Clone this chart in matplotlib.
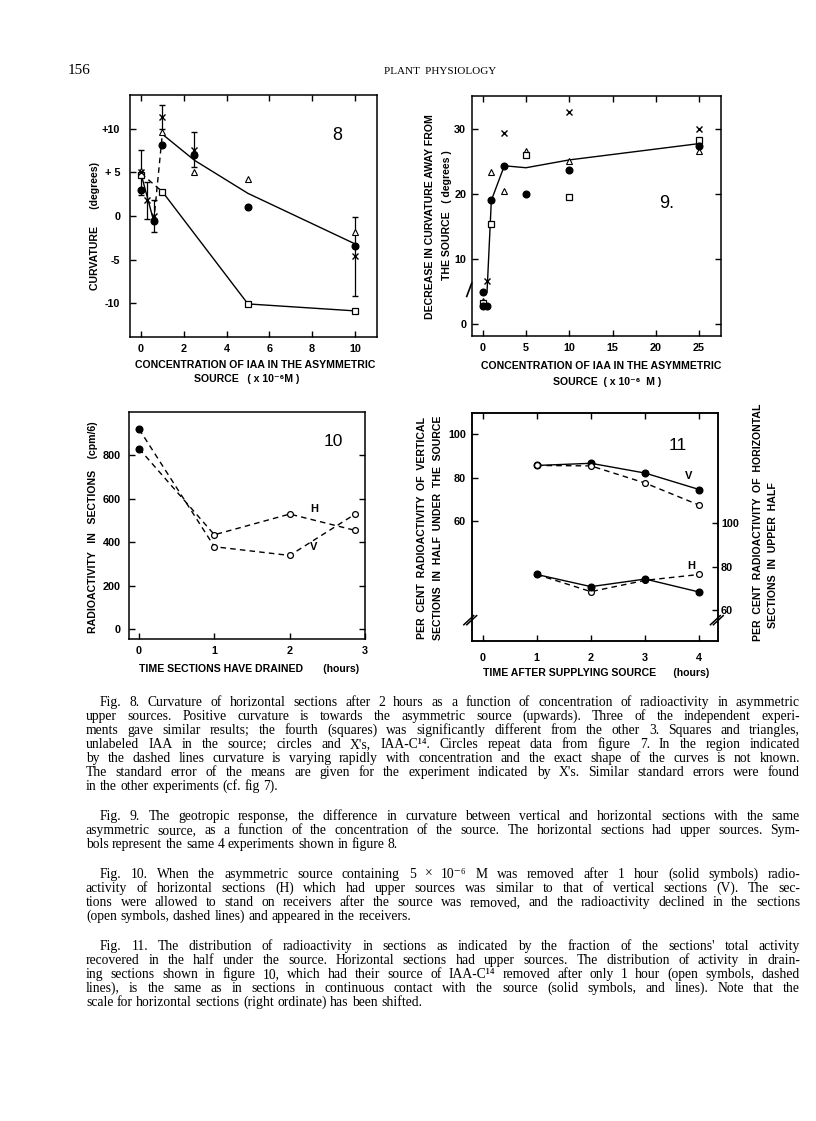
import matplotlib
matplotlib.use("Agg")
import matplotlib.pyplot as plt

W, H = 816, 1121
SANS = ['Liberation Sans', 'DejaVu Sans']
SERIF = ['Liberation Serif', 'DejaVu Serif']
plt.rcParams['font.family'] = SANS

# ---------------- data ----------------
# Fig 8
f8_sq_x = [0, 1, 5, 10]
f8_sq_y = [4.7, 2.8, -10.1, -10.9]
f8_tri_x = [0, 1, 2.5, 5, 10]
f8_tri_y = [5.2, 9.7, 5.0, 4.2, -1.8]
f8_cir_x = [0, 0.6, 1, 2.5, 5, 10]
f8_cir_y = [3.0, -0.6, 8.2, 7.0, 1.0, -3.4]
f8_xm_x = [0, 0.3, 0.6, 1, 2.5, 10]
f8_xm_y = [5.0, 1.8, 0.0, 11.4, 7.6, -4.65]
f8_xm_err = [2.6, 2.1, 1.8, 1.4, 2.0, 4.5]
f8_curve_x = [1, 2.5, 5, 10]
f8_curve_y = [9.4, 6.4, 2.6, -3.2]
f8_lowcurve_x = [1, 5, 10]
f8_lowcurve_y = [2.8, -10.1, -10.9]
f8_solidlow_x = [0, 0.6]
f8_solidlow_y = [4.9, -0.6]
f8_dashA_x = [0.6, 1]
f8_dashA_y = [-0.6, 9.4]
f8_dashB_x = [0, 1]
f8_dashB_y = [4.9, 2.8]

# Fig 9
f9_curve_x = [0, 0.5, 1, 2.5, 5, 10, 25]
f9_curve_y = [4.8, 4.9, 19.0, 24.3, 24.0, 25.2, 27.7]
f9_cir_x = [0, 0, 0.5, 1, 2.5, 5, 10, 25]
f9_cir_y = [4.9, 2.85, 2.8, 19.0, 24.3, 19.9, 23.6, 27.4]
f9_xm_x = [0.5, 2.5, 10, 25]
f9_xm_y = [6.6, 29.4, 32.6, 30.0]
f9_tri_x = [0, 1, 2.5, 5, 10, 25]
f9_tri_y = [3.5, 23.3, 20.5, 26.5, 25.0, 26.5]
f9_sq_x = [0, 1, 5, 10, 25]
f9_sq_y = [3.2, 15.3, 26.0, 19.5, 28.3]

# Fig 10
f10_t = [0, 1, 2, 2.87]
f10_H = [830, 435, 530, 455]
f10_V = [920, 380, 340, 530]

# Fig 11
f11_t = [1, 2, 3, 4]
f11_V_solid = [85.7, 86.7, 82.2, 74.6]
f11_V_open = [85.7, 85.5, 77.6, 67.4]
f11_H_solid = [76.5, 70.9, 74.4, 68.4]
f11_H_open = [76.5, 68.6, 73.8, 76.5]

fig = plt.figure(figsize=(W / 100, H / 100), dpi=100)
fig.patch.set_facecolor('white')


def rect(l, t, r, b):
    return [l / W, 1 - b / H, (r - l) / W, (b - t) / H]


def ptext(x, y, s, **kw):
    return fig.text(x / W, 1 - y / H, s, **kw)


LW = 1.0
TICKFS = 7.8
LABFS = 7.6


def style(ax, top=True, right=True, lpad=4, bpad=4):
    for sp in ax.spines.values():
        sp.set_linewidth(1.1)
    ax.tick_params(direction='in', length=4, width=1.0, labelsize=TICKFS,
                   top=top, right=right, colors='black')
    ax.tick_params(axis='y', pad=lpad)
    ax.tick_params(axis='x', pad=bpad)
    for lab in ax.get_xticklabels() + ax.get_yticklabels():
        lab.set_fontweight('bold')


mk = dict(color='black', linestyle='none')

# ---------------- Fig 8 ----------------
ax8 = fig.add_axes(rect(130, 95, 377, 337))
ax8.set_xlim(-0.51, 11.03)
ax8.set_ylim(-13.9, 13.9)
ax8.plot(f8_curve_x, f8_curve_y, color='black', lw=LW)
ax8.plot(f8_lowcurve_x, f8_lowcurve_y, color='black', lw=LW)
ax8.plot(f8_solidlow_x, f8_solidlow_y, color='black', lw=LW)
ax8.plot(f8_dashA_x, f8_dashA_y, color='black', lw=LW, ls=(0, (4, 3)))
ax8.plot(f8_dashB_x, f8_dashB_y, color='black', lw=LW, ls=(0, (4, 3)))
ax8.errorbar(f8_xm_x, f8_xm_y, yerr=f8_xm_err, fmt='x', color='black',
             ms=4.0, mew=1.0, elinewidth=0.9, capsize=2.2, capthick=0.9)
ax8.plot(f8_cir_x, f8_cir_y, marker='o', ms=4.8, mfc='black', **mk)
ax8.plot(f8_tri_x, f8_tri_y, marker='^', ms=4.2, mfc='white', mew=0.8, **mk)
ax8.plot(f8_sq_x, f8_sq_y, marker='s', ms=4.4, mfc='white', mew=0.9, **mk)
ax8.set_xticks([0, 2, 4, 6, 8, 10])
ax8.set_yticks([-10, -5, 0, 5, 10])
ax8.set_yticklabels(['-10', '-5', '0', '+ 5', '+10'])
style(ax8, top=True, right=False, lpad=7, bpad=5)
ax8.text(9.16, 9.3, '8', fontsize=13, ha='center', va='center')
ptext(95, 226, 'CURVATURE      (degrees)', rotation=90, ha='center', va='center',
      fontsize=LABFS, fontweight='bold')
ptext(255, 365, 'CONCENTRATION OF IAA IN THE ASYMMETRIC', ha='center', va='center',
      fontsize=LABFS, fontweight='bold')
ptext(247, 379, 'SOURCE   ( x 10\u207b\u2076M )', ha='center', va='center',
      fontsize=LABFS, fontweight='bold', family=SANS)

# ---------------- Fig 9 ----------------
ax9 = fig.add_axes(rect(471.7, 96, 720.7, 336))
ax9.set_xlim(-1.27, 27.5)
ax9.set_ylim(-1.8, 35)
ax9.plot(f9_curve_x, f9_curve_y, color='black', lw=LW)
ax9.plot(f9_xm_x, f9_xm_y, marker='x', ms=4.0, mew=1.0, **mk)
ax9.plot(f9_tri_x, f9_tri_y, marker='^', ms=4.2, mfc='white', mew=0.8, **mk)
ax9.plot(f9_sq_x, f9_sq_y, marker='s', ms=4.3, mfc='white', mew=0.9, **mk)
ax9.plot(f9_cir_x, f9_cir_y, marker='o', ms=4.8, mfc='black', **mk)
ax9.set_xticks([0, 5, 10, 15, 20, 25])
ax9.set_yticks([0, 10, 20, 30])
style(ax9, top=True, right=True, lpad=4, bpad=5)
ax9.text(21.3, 18.5, '9.', fontsize=13, ha='center', va='center')
ax9.plot([-0.02, 0.0], [0.165, 0.22], transform=ax9.transAxes, color='black',
         lw=1.2, clip_on=False)
ptext(430, 217, 'DECREASE IN CURVATURE AWAY FROM', rotation=90, ha='center',
      va='center', fontsize=LABFS, fontweight='bold')
ptext(446.5, 215, 'THE SOURCE   ( degrees )', rotation=90, ha='center',
      va='center', fontsize=LABFS, fontweight='bold')
ptext(601, 366, 'CONCENTRATION OF IAA IN THE ASYMMETRIC', ha='center', va='center',
      fontsize=LABFS, fontweight='bold')
ptext(607, 382, 'SOURCE  ( x 10\u207b\u2076  M )', ha='center', va='center',
      fontsize=LABFS, fontweight='bold', family=SANS)

# ---------------- Fig 10 ----------------
ax10 = fig.add_axes(rect(129.3, 411.7, 365, 639.3))
ax10.set_xlim(-0.13, 3.0)
ax10.set_ylim(-45, 1000)
ax10.plot(f10_t, f10_H, color='black', lw=LW, ls=(0, (4, 3)))
ax10.plot(f10_t, f10_V, color='black', lw=LW, ls=(0, (4, 3)))
for ys in (f10_H, f10_V):
    ax10.plot(f10_t[:1], ys[:1], marker='o', ms=4.8, mfc='black', **mk)
    ax10.plot(f10_t[1:], ys[1:], marker='o', ms=4.2, mfc='white', mew=0.9, **mk)
ax10.set_xticks([0, 1, 2, 3])
ax10.set_yticks([0, 200, 400, 600, 800])
style(ax10, top=False, right=True, lpad=6, bpad=5)
ax10.text(2.58, 861, '10', fontsize=12.5, ha='center', va='center')
ax10.text(2.32, 555, 'H', fontsize=8, fontweight='bold', ha='center', va='center')
ax10.text(2.32, 379, 'V', fontsize=8, fontweight='bold', ha='center', va='center')
ptext(93, 527, 'RADIOACTIVITY   IN   SECTIONS    (cpm/6)', rotation=90,
      ha='center', va='center', fontsize=LABFS, fontweight='bold')
ptext(249, 669, 'TIME SECTIONS HAVE DRAINED       (hours)', ha='center',
      va='center', fontsize=LABFS, fontweight='bold')

# ---------------- Fig 11 ----------------
ax11 = fig.add_axes(rect(471.7, 412.7, 718.3, 640.7))
ax11.set_xlim(-0.2, 4.35)
ax11.set_ylim(5, 110)
ax11b = ax11.twinx()
ax11b.set_ylim(46, 151)
ax11.plot(f11_t, f11_V_solid, color='black', lw=LW, marker='o', ms=4.8, mfc='black', mec='black')
ax11.plot(f11_t, f11_V_open, color='black', lw=LW, ls=(0, (4, 3)), marker='o', ms=4.2,
          mfc='white', mec='black', mew=0.9)
ax11b.plot(f11_t, f11_H_open, color='black', lw=LW, ls=(0, (4, 3)), marker='o', ms=4.2,
           mfc='white', mec='black', mew=0.9)
ax11b.plot(f11_t, f11_H_solid, color='black', lw=LW, marker='o', ms=4.8, mfc='black', mec='black')
ax11.set_xticks([0, 1, 2, 3, 4])
ax11.set_yticks([60, 80, 100])
ax11b.set_yticks([60, 80, 100])
style(ax11, top=True, right=False, lpad=4, bpad=9)
for sp in ax11b.spines.values():
    sp.set_linewidth(1.1)
ax11b.tick_params(direction='in', length=4, width=1.0, labelsize=TICKFS, pad=2)
for lab in ax11b.get_yticklabels():
    lab.set_fontweight('bold')
ax11.text(3.6, 95, '11', fontsize=12.5, ha='center', va='center')
ax11.text(3.8, 81, 'V', fontsize=8, fontweight='bold', ha='center', va='center')
ax11b.text(3.85, 80.5, 'H', fontsize=8, fontweight='bold', ha='center', va='center')
for xa in (0.0, 1.0):
    for dx in (-0.012, 0.0):
        ax11.plot([xa - 0.02 + dx, xa + 0.02 + dx], [0.07, 0.11],
                  transform=ax11.transAxes, color='black', lw=1.1, clip_on=False)
ptext(421.7, 528, 'PER  CENT  RADIOACTIVITY  OF  VERTICAL', rotation=90, ha='center',
      va='center', fontsize=LABFS, fontweight='bold')
ptext(438, 528, 'SECTIONS  IN  HALF  UNDER  THE  SOURCE', rotation=90, ha='center',
      va='center', fontsize=LABFS, fontweight='bold')
ptext(758, 522, 'PER  CENT  RADIOACTIVITY  OF  HORIZONTAL', rotation=90, ha='center',
      va='center', fontsize=LABFS, fontweight='bold')
ptext(773, 555, 'SECTIONS  IN  UPPER  HALF', rotation=90, ha='center',
      va='center', fontsize=LABFS, fontweight='bold')
ptext(596, 673, 'TIME AFTER SUPPLYING SOURCE      (hours)', ha='center',
      va='center', fontsize=LABFS, fontweight='bold')

# ---------------- header ----------------
ptext(68, 71, '156', fontsize=11, family=SERIF, ha='left', va='center')
ptext(440, 71, 'PLANT  PHYSIOLOGY', fontsize=8, family=SERIF, ha='center', va='center')

# ---------------- captions ----------------
captions = [
    (702, [
        "Fig. 8.  Curvature of horizontal sections after 2 hours as a function of concentration of radioactivity in asymmetric",
        "upper sources.  Positive curvature is towards the asymmetric source (upwards).  Three of the independent experi-",
        "ments gave similar results; the fourth (squares) was significantly different from the other 3.  Squares and triangles,",
        "unlabeled IAA in the source; circles and X's, IAA-C\u00b9\u2074.  Circles repeat data from figure 7.  In the region indicated",
        "by the dashed lines curvature is varying rapidly with concentration and the exact shape of the curves is not known.",
        "The standard error of the means are given for the experiment indicated by X's.  Similar standard errors were found",
        "in the other experiments (cf. fig 7).",
    ]),
    (816, [
        "Fig. 9.  The geotropic response, the difference in curvature between vertical and horizontal sections with the same",
        "asymmetric source, as a function of the concentration of the source.  The horizontal sections had upper sources.  Sym-",
        "bols represent the same 4 experiments shown in figure 8.",
    ]),
    (874, [
        "Fig. 10.  When the asymmetric source containing 5\u00a0\u00d7\u00a010\u207b\u2076\u00a0M was removed after 1 hour (solid symbols) radio-",
        "activity of horizontal sections (H) which had upper sources was similar to that of vertical sections (V).  The sec-",
        "tions were allowed to stand on receivers after the source was removed, and the radioactivity declined in the sections",
        "(open symbols, dashed lines) and appeared in the receivers.",
    ]),
    (946, [
        "Fig. 11.  The distribution of radioactivity in sections as indicated by the fraction of the sections' total activity",
        "recovered in the half under the source.  Horizontal sections had upper sources.  The distribution of activity in drain-",
        "ing sections shown in figure 10, which had their source of IAA-C\u00b9\u2074 removed after only 1 hour (open symbols, dashed",
        "lines), is the same as in sections in continuous contact with the source (solid symbols, and lines).  Note that the",
        "scale for horizontal sections (right ordinate) has been shifted.",
    ]),
]

CAPFS = 9.8
LEFT, INDENT, RIGHT, LSP = 86, 100, 800, 14
renderer = fig.canvas.get_renderer()


def set_line(line, y, x0, x1, justify):
    words = line.split()
    texts = [ptext(0, y, w, fontsize=CAPFS, family=SERIF, ha='left', va='baseline')
             for w in words]
    widths = [t.get_window_extent(renderer=renderer).width for t in texts]
    space = 3.4
    if justify and len(words) > 1:
        gap = max((x1 - x0 - sum(widths)) / (len(words) - 1), 1.5)
    else:
        gap = space
    x = x0
    yb = y + 4
    for t, w in zip(texts, widths):
        t.set_position((x / W, 1 - yb / H))
        x += w + gap


for y0, lines in captions:
    for i, line in enumerate(lines):
        x0 = INDENT if i == 0 else LEFT
        set_line(line, y0 + i * LSP, x0, RIGHT, justify=(i < len(lines) - 1))

fig.savefig('out.png', dpi=100, facecolor='white')
